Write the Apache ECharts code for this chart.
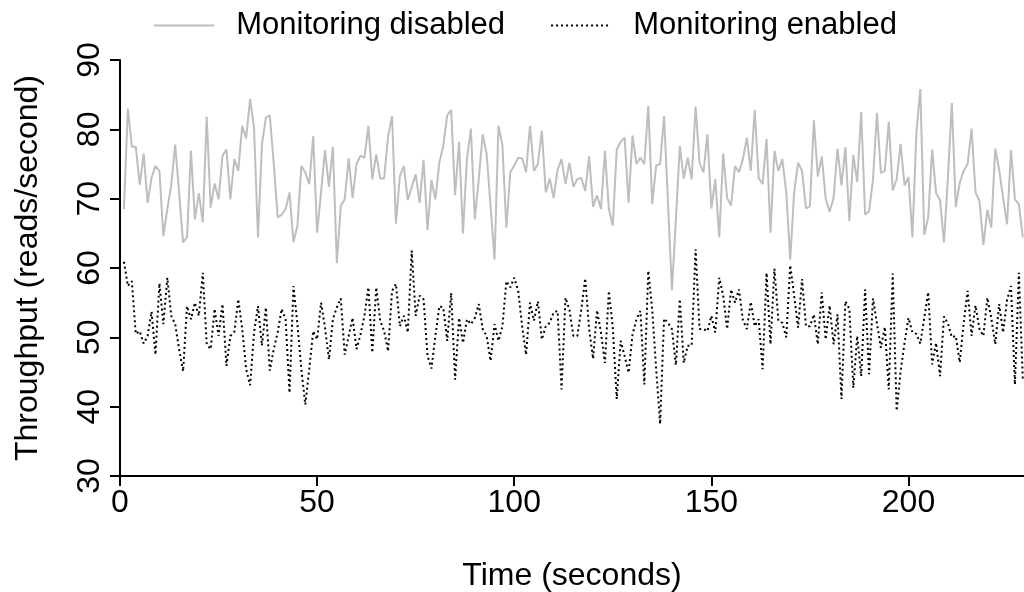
<!DOCTYPE html>
<html>
<head>
<meta charset="utf-8">
<script src="https://cdn.jsdelivr.net/npm/echarts@6/dist/echarts.min.js"></script>
<style>html,body{margin:0;padding:0;background:#fff}#c{width:1024px;height:592px}</style>
</head>
<body>
<div id="c"></div>
<script>
// Throughput per second (t = 1..229)
var disabled = [68.5,83,77.5,77.5,72,76.5,69.4,73,74.7,74,64.6,68.5,72,77.8,70.8,63.7,64.4,76.9,67,70.8,
66.6,81.8,68.7,72.2,69.9,76.2,77.1,69.9,75.7,74,80.5,78.7,84.4,80.2,64.4,77.8,81.7,82,75,67.3,
67.7,68.5,70.9,63.7,66.1,74.7,73.8,72.1,79,65.1,70.9,77,71.7,77.5,60.7,69,69.9,75.8,70.1,75,
76.2,75.9,80.5,72.8,76.4,72.9,72.9,79,81.9,66.4,73.3,74.7,69.8,71.7,73.5,69.4,75.6,65.5,72.7,69.9,
75.2,77.6,82,82.8,70.5,78.2,65,75.7,80.1,67,72.8,79.3,76.4,68.9,61.2,80.5,77.7,65.8,73.8,74.8,
75.9,75.8,73.8,80.5,74,75,79.8,70.9,72.9,70.1,74.2,75.7,72.1,75.2,71.7,72.8,73,71.1,76.1,68.8,
70.5,68.5,76.9,68.5,66.1,77.1,78.2,78.8,69.4,79.1,75,75.9,75,83.4,69.2,74.8,75,81.9,69.4,56.8,
67,77.6,72.9,75.9,72.8,83.3,75.2,73.8,79.3,68.6,72.8,64.4,76.5,70.1,69,74.7,73.8,75.7,78.8,74,
82.8,73,72.1,78.6,65.1,76.9,74,75.7,70.9,61.2,70.9,75.2,74,68.6,68.9,81.3,73.2,76.1,70,68.1,
70.1,77.2,71.9,77.4,66.8,76.3,72.4,82.5,67.7,68.2,72.8,82.4,73.7,74,81.1,71.2,72.8,77.9,71.9,73.1,
64.4,79.5,85.8,64.8,67.3,77.1,70.8,69.8,63.7,73,83.8,68.8,72.3,74,75,80.1,70.9,69.7,63.3,68.4,
65.8,77.2,74.2,70.1,66.3,77,69.9,69.2,64.4];
var enabled = [60.9,57.4,58.1,50.5,50.9,49.1,50.2,53.7,47.5,57.8,51.9,58.6,53.1,51.9,48.3,45.1,54.5,52.6,55,53.1,
59.3,49,48.3,54.1,50.2,54.8,45.9,50.2,50.8,55.5,51.2,45.4,43.1,50.7,54.5,48.8,54.3,45.2,48.3,50.7,
54.1,52.6,42,57.4,51.9,45.4,40.3,45.4,50.9,49.7,55,51.4,46.8,52.6,54.3,55.6,47.5,50.2,52.8,48.3,
50.4,53.1,57.2,47.8,57.2,52.4,50.9,48,56.7,57.7,51.6,53.1,50.7,62.5,53.1,56,55.5,47.3,45.5,50.2,
54.5,54.3,49.5,56.4,43.9,52.8,49.2,52.6,51.9,52.8,54.8,51.2,50.2,46.6,51.9,49.5,51.6,58.1,57.2,58.6,
56.7,51.6,47.5,55,52.4,55.2,49.7,51.6,52.1,53.6,53.8,42.5,55.7,54,50.2,50.2,54,58.5,51.2,46.9,
53.9,50.7,46.3,56.7,51.4,41.1,49.5,47.3,44.9,50.4,52.6,53.8,43.2,59.6,54,45.4,37.5,52.7,52.1,51.2,
46,55.5,46.3,48.8,48.8,62.7,51.2,51.2,50.9,53.1,50.7,58.6,56,51.2,56.9,55,56.9,52.5,51.2,55.1,
51.6,52.6,45.4,59.3,49,59.9,52.4,52.1,50,60.4,56,51.4,58.4,51.6,51.6,53.3,49,56.5,49.7,54.6,
49,53.3,41.1,55.2,54.1,42.7,50.2,44.4,56.9,44.7,55.6,52,48.5,51.5,42.5,59.2,39.4,45.1,49.2,52.8,
50.7,50.5,49.1,52.8,56.5,46.1,49.2,44.4,53,52,50,50.2,46.4,52.1,56.7,50.2,54.6,51.2,50.2,55.7,
52.8,49,54.8,50.7,55.4,57.4,43.2,59.3,43.9];
var seriesNames = ['Monitoring disabled', 'Monitoring enabled'];
var xTicks = [0, 50, 100, 150, 200];
var yTicks = [30, 40, 50, 60, 70, 80, 90];

var chart = echarts.init(document.getElementById('c'), null, {renderer: 'canvas'});
var font = 'Liberation Sans, Arial, Helvetica, sans-serif';
function pairs(arr) { return arr.map(function (v, i) { return [i + 1, v]; }); }
chart.setOption({
  animation: false,
  backgroundColor: '#ffffff',
  textStyle: {fontFamily: font},
  legend: {
    top: 5, left: 148,
    itemWidth: 60, itemHeight: 14, itemGap: 45,
    itemStyle: {opacity: 0},
    textStyle: {fontSize: 31, color: '#000', fontFamily: font},
    formatter: function (n) { return '  ' + n; },
    data: seriesNames
  },
  grid: {left: 120, top: 60, bottom: 116, right: 0, containLabel: false, outerBoundsMode: 'none'},
  xAxis: {
    type: 'value', min: 0, max: 229.3, interval: 50,
    axisLine: {show: true, onZero: false, lineStyle: {color: '#000', width: 2}},
    axisTick: {show: true, inside: false, length: 10, lineStyle: {color: '#000', width: 2}},
    axisLabel: {fontSize: 32, color: '#000', margin: 11, fontFamily: font, showMaxLabel: false,
      formatter: function (v) { return xTicks.indexOf(v) >= 0 ? String(v) : ''; }},
    splitLine: {show: false},
    name: 'Time (seconds)', nameLocation: 'middle', nameGap: 84,
    nameTextStyle: {fontSize: 32, color: '#000', fontFamily: font}
  },
  yAxis: {
    type: 'value', min: 30, max: 90, interval: 10,
    axisLine: {show: true, lineStyle: {color: '#000', width: 2}},
    axisTick: {show: true, inside: false, length: 10, lineStyle: {color: '#000', width: 2}},
    axisLabel: {fontSize: 32, color: '#000', margin: 14, rotate: 90, fontFamily: font,
      formatter: function (v) { return yTicks.indexOf(v) >= 0 ? String(v) : ''; }},
    splitLine: {show: false},
    name: 'Throughput (reads/second)', nameLocation: 'middle', nameGap: 76, nameRotate: 90,
    nameTextStyle: {fontSize: 32, color: '#000', fontFamily: font}
  },
  series: [
    {name: seriesNames[0], type: 'line', data: pairs(disabled), symbol: 'none', clip: true,
     lineStyle: {color: '#bebebe', width: 2}, itemStyle: {color: '#bebebe'}},
    {name: seriesNames[1], type: 'line', data: pairs(enabled), symbol: 'none', clip: true,
     lineStyle: {color: '#000', width: 2, type: [2, 3]}, itemStyle: {color: '#000'}}
  ]
});
</script>
</body>
</html>
